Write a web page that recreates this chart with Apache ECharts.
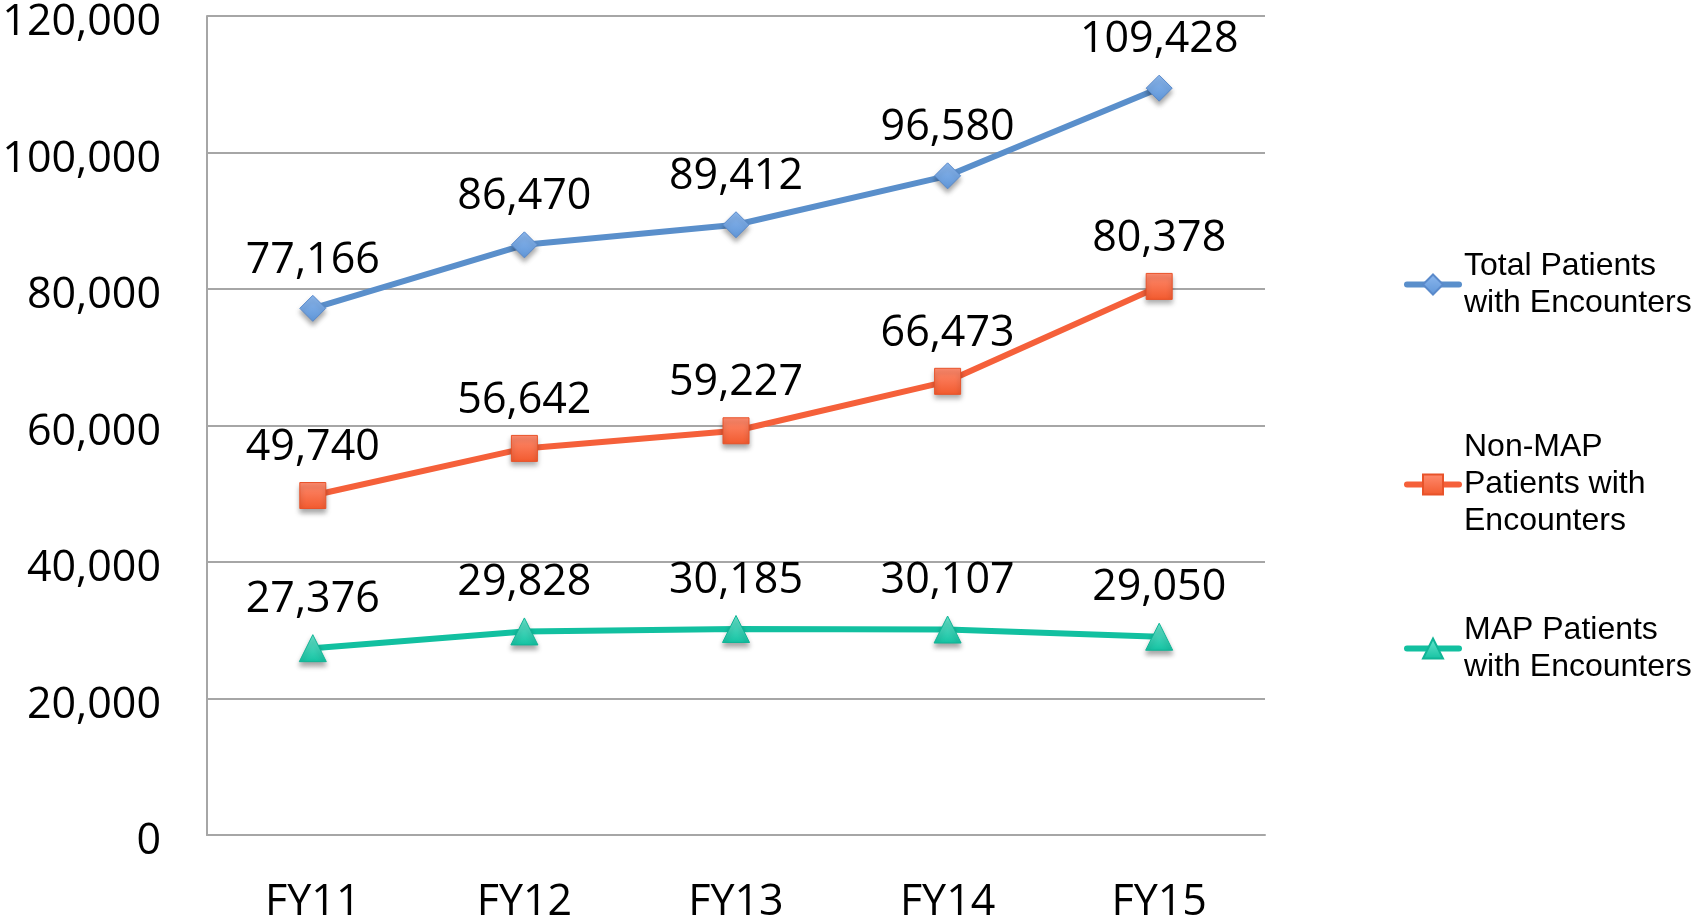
<!DOCTYPE html>
<html>
<head>
<meta charset="utf-8">
<script src="https://cdn.jsdelivr.net/npm/echarts@6/dist/echarts.min.js"></script>
<style>
  html, body { margin: 0; padding: 0; background: #fff; }
  #chart { width: 1694px; height: 919px; }
</style>
</head>
<body>
<div id="chart"></div>
<script>
  var categories = ['FY11', 'FY12', 'FY13', 'FY14', 'FY15']
  var totalPatients = [77166, 86470, 89412, 96580, 109428]
  var nonMapPatients = [49740, 56642, 59227, 66473, 80378]
  var mapPatients = [27376, 29828, 30185, 30107, 29050]
  var yTicks = [0, 20000, 40000, 60000, 80000, 100000, 120000]

  var names = [
    'Total Patients\nwith Encounters',
    'Non-MAP\nPatients with\nEncounters',
    'MAP Patients\nwith Encounters'
  ]

  var fmt = function (v) {
    return Number(v).toLocaleString('en-US')
  }

  function grad(top, bottom) {
    return new echarts.graphic.LinearGradient(0, 0, 0, 1, [
      { offset: 0, color: top },
      { offset: 1, color: bottom }
    ])
  }

  function makeSeries(name, data, color, symbol, fillTop, fillBottom, border) {
    return {
      name: name,
      type: 'line',
      data: data,
      symbol: symbol,
      symbolSize: symbol === 'triangle' ? 27 : 26,
      lineStyle: { color: color, width: 6 },
      itemStyle: {
        color: grad(fillTop, fillBottom),
        borderColor: border,
        borderWidth: 1,
        shadowColor: 'rgba(0,0,0,0.35)',
        shadowBlur: 5,
        shadowOffsetY: 4
      },
      label: {
        show: true,
        position: 'top',
        distance: 13,
        color: '#000',
        fontFamily: 'Open Sans',
        fontSize: 43,
        formatter: function (p) { return fmt(p.value) }
      },
      emphasis: { disabled: true },
      animation: false
    }
  }

  function legendFor(name, top, lines) {
    return {
      data: [name],
      left: 1404,
      top: top,
      padding: 0,
      orient: 'vertical',
      itemWidth: 52,
      itemHeight: 25,
      itemGap: 0,
      selectedMode: false,
      lineStyle: { width: 6, cap: 'round' },
      itemStyle: { shadowBlur: 0, shadowOffsetY: 0 },
      textStyle: {
        fontFamily: 'Liberation Sans',
        fontSize: 32,
        lineHeight: 37,
        color: '#000',
        padding: [(lines - 1) * 37, 0, 0, 0]
      }
    }
  }

  var chart = echarts.init(document.getElementById('chart'))
  chart.setOption({
    backgroundColor: '#fff',
    grid: {
      left: 207,
      right: 429,
      top: 16,
      bottom: 84,
      outerBoundsMode: 'none'
    },
    legend: [
      legendFor(names[0], 229, 2),
      legendFor(names[1], 392, 3),
      legendFor(names[2], 593, 2)
    ],
    xAxis: {
      type: 'category',
      data: categories,
      boundaryGap: true,
      axisLine: { show: true, lineStyle: { color: '#A6A6A6', width: 2 } },
      axisTick: { show: false },
      axisLabel: {
        margin: 46,
        color: '#000',
        fontFamily: 'Open Sans',
        fontSize: 43
      }
    },
    yAxis: {
      type: 'value',
      min: yTicks[0],
      max: yTicks[yTicks.length - 1],
      interval: 20000,
      axisLine: { show: true, lineStyle: { color: '#A6A6A6', width: 2 } },
      axisTick: { show: false },
      splitLine: { lineStyle: { color: '#A6A6A6', width: 2 } },
      axisLabel: {
        margin: 46,
        color: '#000',
        formatter: function (v) { return '{v|' + fmt(v) + '}' },
        rich: {
          v: {
            fontFamily: 'Open Sans',
            fontSize: 43,
            color: '#000',
            padding: [14, 0, 0, 0]
          }
        }
      }
    },
    series: [
      makeSeries(names[0], totalPatients, '#5A8FCB', 'diamond', '#8DB8EE', '#5F96D8', '#5A8ACB'),
      makeSeries(names[1], nonMapPatients, '#F5603A', 'rect', '#FF8C70', '#F25A2E', '#E8532A'),
      makeSeries(names[2], mapPatients, '#12C0A0', 'triangle', '#6CE6CE', '#14C2A2', '#10B596')
    ]
  })
</script>
</body>
</html>
